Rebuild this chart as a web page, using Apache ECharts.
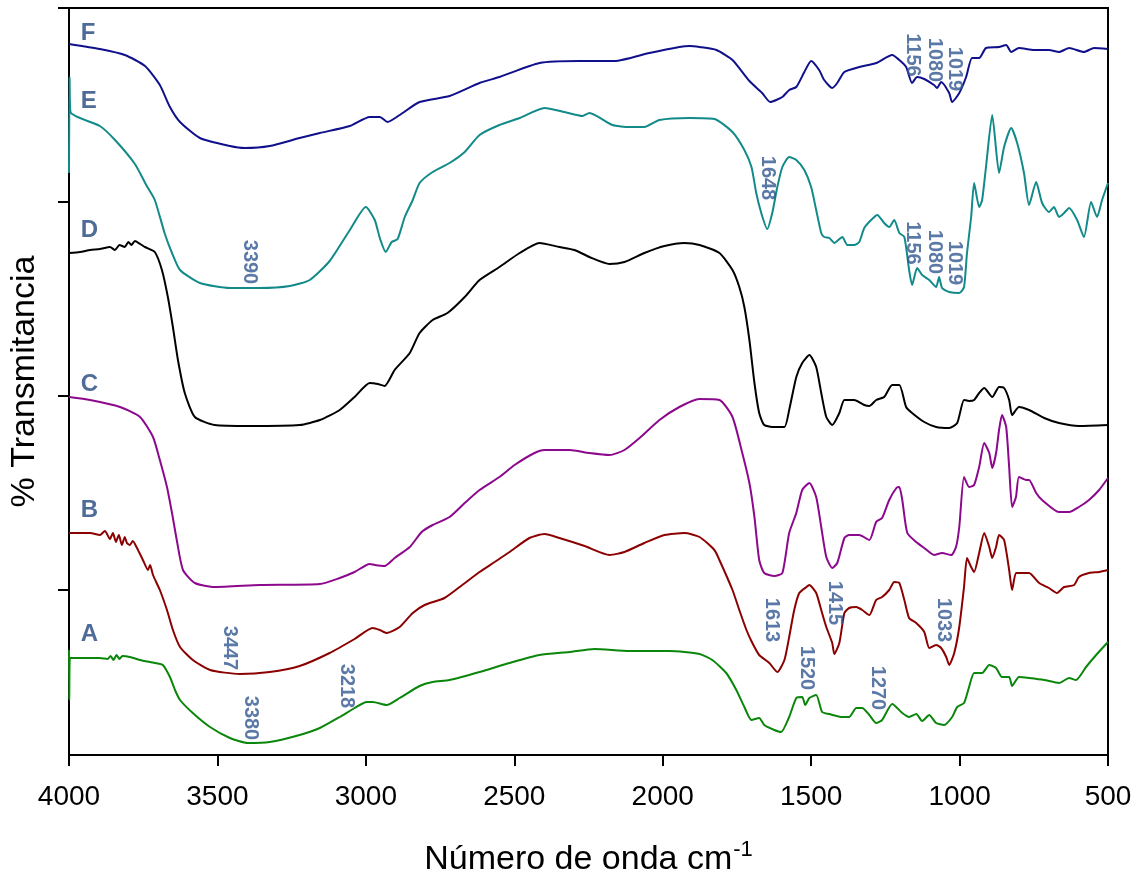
<!DOCTYPE html>
<html>
<head>
<meta charset="utf-8">
<title>Espectros FTIR</title>
<script src="https://cdn.jsdelivr.net/npm/echarts@6/dist/echarts.min.js"></script>
<style>
  html, body { margin: 0; padding: 0; background: #fff; }
  #chart { width: 1142px; height: 874px; }
</style>
</head>
<body>
<div id="chart"></div>
<script>
// Wavenumber (cm-1) and stacked transmittance (arbitrary offset units) per sample
const specF = [[4000,71.1],[3896,70.6],[3812,70.0],[3744,68.9],[3694,67.0],[3660,64.8],[3626,63.3],[3559,61.7],[3458,60.9],[3408,60.7],[3324,60.9],[3223,61.7],[3155,62.2],[3054,62.9],[2987,63.8],[2953,63.8],[2927,63.3],[2886,64.0],[2819,65.3],[2718,65.9],[2617,67.2],[2550,67.8],[2415,69.2],[2280,69.4],[2162,69.4],[2045,70.2],[1944,70.8],[1910,70.9],[1876,70.8],[1819,70.5],[1765,69.5],[1708,67.4],[1665,66.2],[1638,65.3],[1597,65.8],[1574,66.5],[1550,66.8],[1523,68.3],[1500,69.4],[1473,68.5],[1456,67.5],[1429,66.7],[1412,67.2],[1388,68.3],[1338,68.8],[1281,69.2],[1227,70.0],[1203,69.5],[1180,68.8],[1160,67.2],[1143,67.8],[1119,67.6],[1086,67.0],[1076,66.7],[1062,67.3],[1035,66.2],[1025,65.3],[1001,66.2],[978,67.8],[958,69.7],[934,69.7],[911,70.7],[867,70.8],[843,71.0],[826,70.3],[800,70.7],[749,70.5],[699,70.5],[665,70.3],[631,70.7],[581,70.3],[547,70.7],[500,70.6]];

const specE = [[4000,58.2],[3998,67.8],[3995,64.3],[3896,62.9],[3845,61.5],[3778,59.1],[3738,56.9],[3711,55.5],[3677,52.1],[3653,50.2],[3626,48.5],[3559,47.2],[3458,46.7],[3357,46.7],[3256,46.9],[3189,47.5],[3122,49.4],[3054,52.5],[3000,54.8],[2970,53.5],[2953,51.7],[2933,50.3],[2913,51.3],[2893,51.6],[2869,53.8],[2842,55.5],[2819,57.2],[2775,58.3],[2718,59.2],[2667,60.3],[2617,62.0],[2550,63.0],[2482,63.7],[2398,64.7],[2331,64.3],[2270,63.9],[2247,64.2],[2169,63.0],[2112,62.8],[2062,62.8],[2011,63.5],[1910,63.7],[1826,63.6],[1765,62.3],[1725,60.5],[1701,58.8],[1685,56.2],[1668,54.2],[1648,52.6],[1631,54.2],[1614,56.8],[1597,58.8],[1574,59.8],[1550,59.5],[1523,58.5],[1500,56.8],[1483,54.5],[1466,52.2],[1456,51.8],[1439,51.7],[1422,51.2],[1395,51.8],[1378,51.0],[1355,51.0],[1338,51.3],[1321,52.7],[1298,53.5],[1277,54.0],[1254,53.2],[1237,52.8],[1220,53.5],[1203,52.2],[1186,51.8],[1170,48.5],[1160,47.0],[1143,48.7],[1126,48.0],[1102,47.5],[1079,46.8],[1069,47.8],[1059,46.7],[1035,46.3],[1001,46.2],[985,46.8],[975,50.2],[961,53.8],[951,57.2],[934,54.8],[924,55.5],[911,58.8],[890,64.0],[867,58.2],[850,60.8],[826,62.7],[806,61.2],[783,58.2],[766,55.0],[742,57.3],[722,55.2],[699,54.3],[682,54.8],[665,53.8],[648,54.2],[631,54.7],[604,53.5],[581,51.8],[557,55.3],[537,53.8],[520,55.5],[500,57.2]];

const specD = [[4000,50.2],[3963,50.3],[3929,50.5],[3896,50.6],[3862,50.8],[3845,50.5],[3830,51.0],[3812,50.8],[3800,51.3],[3790,51.0],[3778,51.4],[3760,51.1],[3744,50.8],[3711,50.3],[3687,48.5],[3667,45.8],[3650,42.8],[3633,39.5],[3610,36.2],[3576,33.8],[3509,33.0],[3391,32.9],[3223,33.0],[3155,33.5],[3088,34.5],[3038,35.8],[2987,37.2],[2960,37.1],[2937,36.9],[2903,38.5],[2852,40.2],[2819,42.2],[2775,43.5],[2725,44.2],[2667,45.8],[2617,47.5],[2550,48.8],[2482,50.2],[2415,51.2],[2348,50.8],[2297,50.5],[2247,49.8],[2179,49.1],[2129,49.3],[2062,50.2],[1994,50.9],[1927,51.2],[1876,51.0],[1809,50.2],[1765,48.5],[1742,46.8],[1725,44.8],[1708,41.5],[1691,37.2],[1675,34.2],[1658,33.0],[1624,32.8],[1590,32.8],[1574,34.5],[1550,37.8],[1530,39.2],[1506,40.0],[1483,38.8],[1466,36.2],[1449,33.8],[1429,33.0],[1405,34.2],[1388,35.5],[1355,35.5],[1321,35.0],[1304,34.9],[1281,35.5],[1254,35.8],[1227,37.0],[1203,37.0],[1180,34.8],[1160,34.2],[1119,33.3],[1079,32.8],[1035,32.7],[1008,33.2],[985,35.5],[968,35.4],[951,35.5],[934,36.2],[917,36.7],[890,35.8],[867,36.8],[850,36.7],[833,35.5],[823,34.0],[800,34.8],[766,34.5],[715,33.7],[665,33.2],[598,32.9],[500,33.0]];

const specC = [[4000,35.8],[3929,35.5],[3828,34.8],[3761,33.8],[3717,31.8],[3694,29.5],[3670,26.8],[3653,24.2],[3637,21.5],[3616,18.5],[3576,17.2],[3509,16.8],[3357,17.0],[3155,17.1],[3088,17.7],[3038,18.3],[2987,19.1],[2970,19.0],[2937,18.9],[2903,19.7],[2852,20.8],[2812,22.3],[2775,23.0],[2718,23.8],[2667,25.2],[2617,26.5],[2550,27.8],[2499,29.0],[2432,30.2],[2398,30.5],[2314,30.5],[2247,30.2],[2179,30.0],[2129,30.5],[2078,31.7],[2011,33.5],[1944,34.8],[1876,35.6],[1809,35.5],[1765,33.8],[1732,30.2],[1708,27.2],[1691,23.8],[1675,19.5],[1658,18.2],[1624,17.9],[1597,18.2],[1574,22.2],[1550,24.2],[1530,26.5],[1506,27.2],[1483,25.8],[1466,22.8],[1449,19.8],[1429,18.7],[1412,19.2],[1388,21.7],[1372,22.0],[1338,22.0],[1304,21.5],[1281,23.3],[1261,23.7],[1237,25.5],[1213,26.7],[1203,26.8],[1193,25.5],[1176,22.2],[1146,21.3],[1119,20.7],[1086,20.0],[1059,20.2],[1028,20.0],[1012,20.8],[1001,22.8],[985,27.8],[968,26.8],[951,27.0],[934,28.8],[917,31.2],[900,30.2],[890,28.7],[877,30.2],[867,32.5],[857,34.0],[843,32.8],[833,28.8],[823,24.8],[810,25.8],[800,27.8],[776,27.5],[766,27.5],[742,26.2],[722,25.5],[665,24.3],[631,24.3],[598,24.8],[564,25.5],[530,26.5],[500,27.7]];

const specB = [[4000,22.2],[3929,22.2],[3896,22.0],[3879,22.4],[3862,21.6],[3852,22.2],[3842,21.3],[3832,22.0],[3822,21.0],[3812,21.8],[3805,21.2],[3795,21.0],[3785,21.4],[3771,20.7],[3751,19.5],[3734,18.5],[3727,19.0],[3717,18.0],[3694,16.5],[3670,14.5],[3650,12.5],[3626,10.8],[3583,9.5],[3525,8.5],[3425,8.1],[3324,8.3],[3223,8.9],[3122,10.2],[3038,11.6],[2977,12.7],[2953,12.5],[2930,12.2],[2886,12.8],[2842,14.2],[2802,15.0],[2735,15.7],[2684,16.8],[2617,18.3],[2566,19.3],[2516,20.3],[2449,21.7],[2398,22.1],[2348,21.7],[2263,20.9],[2179,20.0],[2129,20.3],[2062,21.2],[1994,22.0],[1927,22.2],[1876,21.8],[1826,20.5],[1809,19.5],[1765,16.5],[1742,14.5],[1718,12.5],[1698,11.2],[1675,10.0],[1641,9.2],[1614,8.3],[1590,9.5],[1574,11.8],[1557,14.5],[1540,16.2],[1516,16.8],[1506,17.0],[1483,16.2],[1466,14.5],[1449,12.8],[1429,11.2],[1422,10.1],[1405,11.2],[1388,14.2],[1372,14.7],[1348,14.8],[1328,14.5],[1304,14.0],[1281,15.5],[1261,15.8],[1237,16.5],[1220,17.3],[1203,17.2],[1186,15.5],[1170,13.7],[1146,13.2],[1119,12.3],[1102,10.7],[1079,11.0],[1062,10.7],[1045,9.8],[1035,9.0],[1018,10.2],[1001,12.8],[985,16.8],[975,19.7],[961,18.8],[951,18.3],[934,20.2],[917,22.2],[900,20.8],[890,19.7],[877,20.8],[867,22.0],[850,21.5],[833,18.5],[823,16.5],[810,18.2],[793,18.2],[766,18.2],[732,17.2],[699,16.7],[672,16.2],[648,16.8],[614,17.0],[598,17.8],[564,18.2],[530,18.3],[500,18.5]];

const specA = [[4000,10.5],[3999,5.5],[3997,9.7],[3896,9.7],[3870,9.6],[3860,9.9],[3850,9.5],[3840,10.0],[3830,9.6],[3820,9.9],[3795,9.8],[3761,9.5],[3711,9.2],[3684,9.0],[3660,7.8],[3643,6.5],[3626,5.5],[3583,4.2],[3525,2.8],[3458,1.7],[3398,1.2],[3324,1.3],[3223,2.0],[3155,2.7],[3088,3.8],[3038,4.7],[2997,5.3],[2977,5.3],[2930,5.0],[2886,5.7],[2819,6.9],[2775,7.3],[2718,7.5],[2617,8.3],[2516,9.2],[2415,10.0],[2314,10.3],[2230,10.6],[2112,10.4],[1977,10.4],[1876,10.1],[1833,9.5],[1786,8.2],[1752,6.5],[1725,4.8],[1701,3.5],[1675,3.7],[1658,3.0],[1624,2.5],[1601,2.3],[1574,3.8],[1550,5.7],[1530,5.8],[1520,5.0],[1506,5.7],[1483,6.0],[1463,4.3],[1439,4.1],[1395,3.8],[1372,3.8],[1348,4.7],[1328,4.7],[1304,4.0],[1281,3.2],[1261,3.5],[1227,5.1],[1193,4.2],[1170,3.8],[1146,4.1],[1126,3.4],[1102,4.0],[1079,3.2],[1052,3.0],[1025,3.8],[1008,4.8],[985,5.2],[968,6.8],[951,8.2],[924,8.2],[900,9.0],[877,8.7],[857,7.8],[833,7.8],[823,6.9],[800,7.8],[766,7.7],[715,7.5],[665,7.2],[631,7.7],[608,7.5],[574,8.8],[540,10.0],[500,11.3]];

// Sample letters and their anchor points
const sampleNames = ['F', 'E', 'D', 'C', 'B', 'A'];
const sampleLabelPos = [[3960, 72.2], [3960, 65.4], [3960, 52.5], [3960, 37.1], [3960, 24.5], [3960, 12.1]];

// Band assignments (wavenumber text, anchor point)
const bandText = ['3390', '1648', '1156', '1080', '1019', '1156', '1080', '1019', '3447', '3380', '3218', '1613', '1415', '1033', '1520', '1270'];
const bandPos = [[3391, 49.3], [1648, 57.7], [1160, 70.0], [1086, 69.5], [1018, 68.6], [1160, 51.2], [1086, 50.3], [1018, 49.2], [3458, 10.7], [3388, 3.7], [3064, 6.9], [1634, 13.5], [1422, 15.2], [1055, 13.5], [1516, 8.7], [1277, 6.7]];

// Tick values on the transmittance axis (no labels shown)
const yTicks = [16.5, 35.9, 55.3, 74.7];

const spectra = [
  { name: 'F', data: specF, color: '#10108c' },
  { name: 'E', data: specE, color: '#128a8a' },
  { name: 'D', data: specD, color: '#000000' },
  { name: 'C', data: specC, color: '#8c088c' },
  { name: 'B', data: specB, color: '#8b0000' },
  { name: 'A', data: specA, color: '#0a860a' }
];

const FONT = '"Liberation Sans", Arial, sans-serif';

const series = spectra.map(s => ({
  name: s.name,
  type: 'line',
  data: s.data,
  showSymbol: false,
  smooth: 0.2,
  lineStyle: { color: s.color, width: 2 },
  itemStyle: { color: s.color },
  z: 3
}));

series.push({
  type: 'scatter',
  data: sampleLabelPos.map((p, i) => ({ value: p, label: { formatter: sampleNames[i] } })),
  symbolSize: 1,
  itemStyle: { color: 'rgba(0,0,0,0)' },
  label: {
    show: true, position: 'inside', align: 'left', verticalAlign: 'middle',
    fontFamily: FONT, fontWeight: 'bold', fontSize: 24, color: '#22477d'
  },
  z: 5
});

series.push({
  type: 'scatter',
  data: bandPos.map((p, i) => ({ value: p, label: { formatter: bandText[i] } })),
  symbolSize: 1,
  itemStyle: { color: 'rgba(0,0,0,0)' },
  label: {
    show: true, position: 'inside', rotate: -90, align: 'center', verticalAlign: 'middle',
    fontFamily: FONT, fontWeight: 'bold', fontSize: 20, color: '#325890'
  },
  z: 5
});

const chart = echarts.init(document.getElementById('chart'), null, { renderer: 'canvas' });
chart.setOption({
  animation: false,
  backgroundColor: '#ffffff',
  grid: {
    left: 69, right: 34, top: 8, bottom: 119,
    outerBoundsMode: 'none',
    containLabel: false,
    show: true, borderColor: '#000', borderWidth: 2, backgroundColor: 'transparent'
  },
  xAxis: {
    type: 'value',
    min: 500, max: 4000, interval: 500,
    inverse: true,
    name: '{a|Número de onda cm}{s|-1}',
    nameLocation: 'middle',
    nameGap: 84,
    nameTextStyle: {
      rich: {
        a: { fontFamily: FONT, fontSize: 34, color: '#000', lineHeight: 38, verticalAlign: 'bottom' },
        s: { fontFamily: FONT, fontSize: 22, color: '#000', lineHeight: 38, verticalAlign: 'top', padding: [0, 0, 0, 1] }
      }
    },
    axisLine: { show: true, lineStyle: { color: '#000', width: 2 } },
    axisTick: { show: true, inside: false, length: 11, lineStyle: { color: '#000', width: 2 } },
    axisLabel: { fontFamily: FONT, fontSize: 28, color: '#000', margin: 28, formatter: v => String(v) },
    splitLine: { show: false }
  },
  yAxis: {
    type: 'value',
    min: 0, max: 74.7,
    name: '% Transmitancia',
    nameLocation: 'middle',
    nameGap: 27,
    nameRotate: 90,
    nameTextStyle: { fontFamily: FONT, fontSize: 34, color: '#000' },
    axisLine: { show: true, lineStyle: { color: '#000', width: 2 } },
    axisTick: { show: true, inside: false, length: 11, customValues: yTicks, lineStyle: { color: '#000', width: 2 } },
    axisLabel: { show: false },
    splitLine: { show: false }
  },
  series: series
});
</script>
</body>
</html>
